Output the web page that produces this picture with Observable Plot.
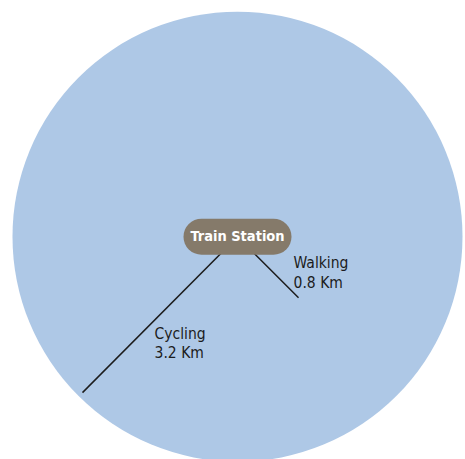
<!DOCTYPE html>
<html>
<head>
<meta charset="utf-8">
<script src="https://cdn.jsdelivr.net/npm/d3@7"></script>
<script src="https://cdn.jsdelivr.net/npm/@observablehq/plot@0.6"></script>
<style>
  html, body { margin: 0; padding: 0; background: #fff; }
  #chart svg { display: block; }
</style>
</head>
<body>
<div id="chart"></div>
<script>
// Data (distances in km-like chart units, station at origin)
const station = "Train Station";
const catchmentRadius = [3.2];
const modes = ["Cycling", "Walking"];
const distanceLabels = ["3.2 Km", "0.8 Km"];
const lineEndX = [-2.205, 0.868];
const lineEndY = [-2.22, -0.868];
const labelX = [-1.18, 0.797];
const labelY = [-1.50, -0.50];

const routes = modes.map((m, i) => ({
  mode: m, label: m + "\n" + distanceLabels[i],
  x2: lineEndX[i], y2: lineEndY[i], lx: labelX[i], ly: labelY[i]
}));

const pill = {
  draw(ctx) {
    const w = 36, h = 18;
    ctx.moveTo(-w, -h);
    ctx.lineTo(w, -h);
    ctx.arc(w, 0, h, -Math.PI / 2, Math.PI / 2);
    ctx.lineTo(-w, h);
    ctx.arc(-w, 0, h, Math.PI / 2, 3 * Math.PI / 2);
    ctx.closePath();
  }
};

const font = "'Liberation Sans Narrow', 'Arial Narrow', 'DejaVu Sans Condensed', sans-serif";

const chart = Plot.plot({
  width: 465,
  height: 459,
  margin: 0,
  x: {domain: [-3.371, 3.243], axis: null},
  y: {domain: [-3.172, 3.364], axis: null},
  r: {type: "linear", domain: [0, 3.2], range: [0, 225]},
  style: {fontFamily: font},
  marks: [
    Plot.dot(catchmentRadius, {x: () => 0, y: () => 0, r: d => d, fill: "#aec8e6", stroke: "none"}),
    Plot.link(routes, {x1: () => 0, y1: () => 0, x2: "x2", y2: "y2", stroke: "#1c1c1c", strokeWidth: 1.5}),
    Plot.dot([station], {x: () => 0, y: () => 0, symbol: pill, r: 10, fill: "#857a6a", stroke: "none"}),
    Plot.text([station], {x: () => 0, y: () => 0, text: d => d, fill: "#ffffff", fontWeight: "bold", fontSize: 14.5}),
    Plot.text(routes, {x: "lx", y: "ly", text: "label", textAnchor: "start", lineAnchor: "middle", lineHeight: 1.25, fill: "#1c1c1c", fontSize: 15.5})
  ]
});
document.getElementById("chart").append(chart);
</script>
</body>
</html>
